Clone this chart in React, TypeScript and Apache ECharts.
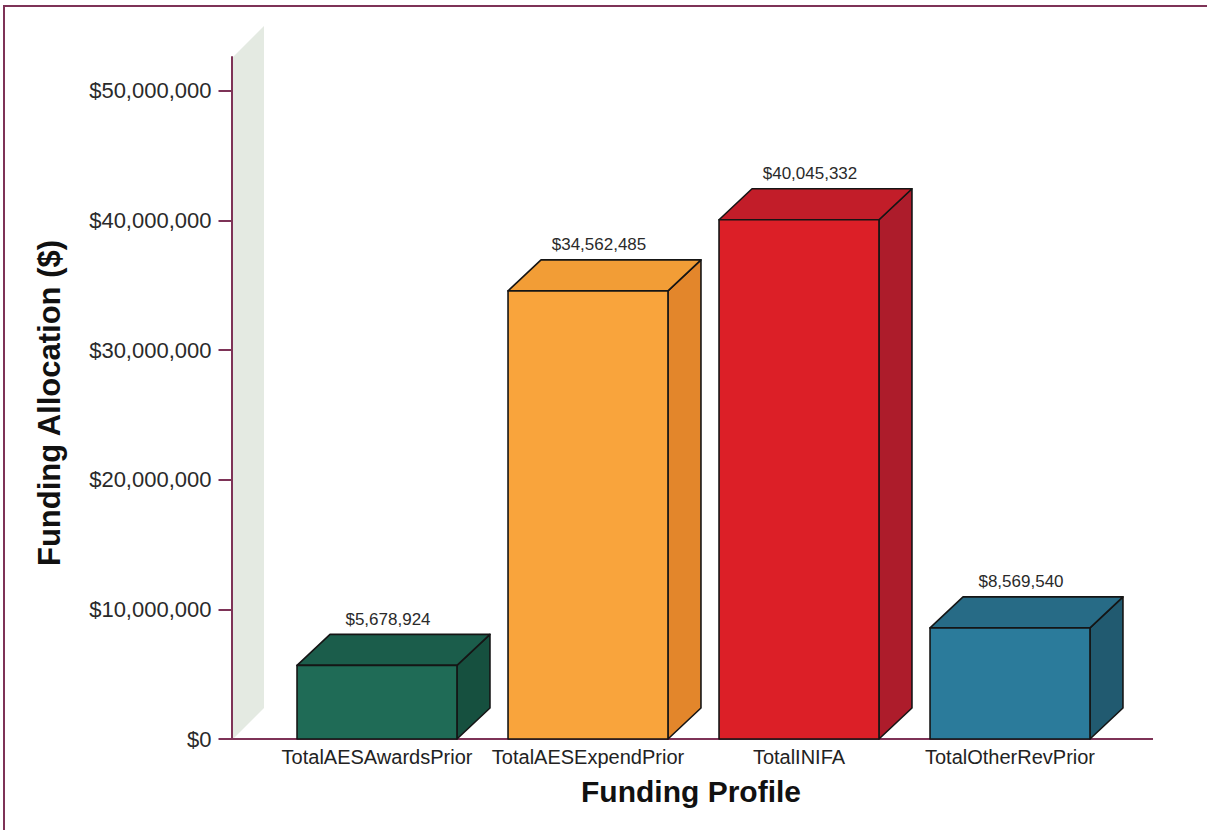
import React, { useEffect, useRef } from "react";
import * as echarts from "echarts";

const categories = ["TotalAESAwardsPrior", "TotalAESExpendPrior", "TotalINIFA", "TotalOtherRevPrior"];
const values = [5678924, 34562485, 40045332, 8569540];
const frontColors = ["#1f6b56", "#f9a43c", "#dc1f27", "#2b7b9b"];
const topColors = ["#1b5d4b", "#f29d36", "#c21d29", "#276b86"];
const sideColors = ["#16503f", "#e3862b", "#ad1c2b", "#215a70"];
const yTicks = [0, 10000000, 20000000, 30000000, 40000000, 50000000];

const FONT = "'Liberation Sans', Arial, Helvetica, sans-serif";
const MAROON = "#7e3357";

export default function App() {
  const ref = useRef<HTMLDivElement>(null);
  useEffect(() => {
    const chart = echarts.init(ref.current!, undefined, { renderer: "svg" });
    const dx = 33;
    const dy = 31;
    const option: any = {
      animation: false,
      backgroundColor: "#ffffff",
      grid: { left: 271.5, right: 91.5, top: 57, bottom: 91 },
      xAxis: {
        type: "category",
        data: categories,
        axisLine: { show: false },
        axisTick: { show: false },
        axisLabel: { interval: 0, fontSize: 20, color: "#222", margin: 8, fontFamily: FONT },
      },
      yAxis: {
        type: "value",
        min: 0,
        max: 52600000,
        interval: 10000000,
        offset: 40,
        splitLine: { show: false },
        axisLine: { show: true, lineStyle: { color: MAROON, width: 2 } },
        axisTick: { show: true, length: 13, lineStyle: { color: MAROON, width: 2 }, customValues: yTicks },
        axisLabel: {
          customValues: yTicks,
          fontSize: 22,
          color: "#2a2a2a",
          margin: 20,
          fontFamily: FONT,
          formatter: (v: number) => "$" + Math.round(v).toLocaleString("en-US"),
        },
      },
      graphic: [
        {
          type: "rect",
          z: -10,
          shape: { x: 4, y: 6, width: 1240, height: 860 },
          style: { fill: "none", stroke: MAROON, lineWidth: 2 },
        },
        {
          type: "polygon",
          z: -5,
          shape: { points: [[233, 57], [264, 26], [264, 708], [233, 739]] },
          style: { fill: "#e4eae2" },
        },
        {
          type: "line",
          z: 1,
          shape: { x1: 231, y1: 739, x2: 1153, y2: 739 },
          style: { stroke: MAROON, lineWidth: 2 },
        },
        {
          type: "text",
          x: 49,
          y: 403,
          rotation: Math.PI / 2,
          style: {
            text: "Funding Allocation ($)",
            fontSize: 31,
            fontWeight: "bold",
            fontFamily: FONT,
            fill: "#111",
            textAlign: "center",
            textVerticalAlign: "middle",
          },
        },
        {
          type: "text",
          x: 691,
          y: 791,
          style: {
            text: "Funding Profile",
            fontSize: 30,
            fontWeight: "bold",
            fontFamily: FONT,
            fill: "#111",
            textAlign: "center",
            textVerticalAlign: "middle",
          },
        },
      ],
      series: [
        {
          type: "custom",
          data: values.map((v, i) => [i, v]),
          renderItem: (params: any, api: any) => {
            const idx = api.value(0);
            const val = api.value(1);
            const base = api.coord([idx, 0]);
            const top = api.coord([idx, val]);
            const bw = api.size([1, 0])[0] * 0.758;
            const x0 = base[0] - bw / 2;
            const x1 = base[0] + bw / 2;
            const yb = base[1];
            const yt = top[1];
            const stroke = { stroke: "#151515", lineWidth: 1.6, lineJoin: "round" };
            return {
              type: "group",
              children: [
                {
                  type: "polygon",
                  shape: { points: [[x1, yb], [x1, yt], [x1 + dx, yt - dy], [x1 + dx, yb - dy]] },
                  style: { fill: sideColors[idx], ...stroke },
                },
                {
                  type: "polygon",
                  shape: { points: [[x0, yt], [x1, yt], [x1 + dx, yt - dy], [x0 + dx, yt - dy]] },
                  style: { fill: topColors[idx], ...stroke },
                },
                {
                  type: "rect",
                  shape: { x: x0, y: yt, width: bw, height: yb - yt },
                  style: { fill: frontColors[idx], ...stroke },
                },
                {
                  type: "text",
                  x: base[0] + 11,
                  y: yt - dy - 15,
                  style: {
                    text: "$" + val.toLocaleString("en-US"),
                    fontSize: 17,
                    fontFamily: FONT,
                    fill: "#2a2a2a",
                    textAlign: "center",
                    textVerticalAlign: "middle",
                  },
                },
              ],
            };
          },
        },
      ],
    };
    chart.setOption(option);
    return () => chart.dispose();
  }, []);
  return (
    <div
      ref={ref}
      style={{ position: "fixed", left: 0, top: 0, width: 1207, height: 830, background: "#fff" }}
    />
  );
}
